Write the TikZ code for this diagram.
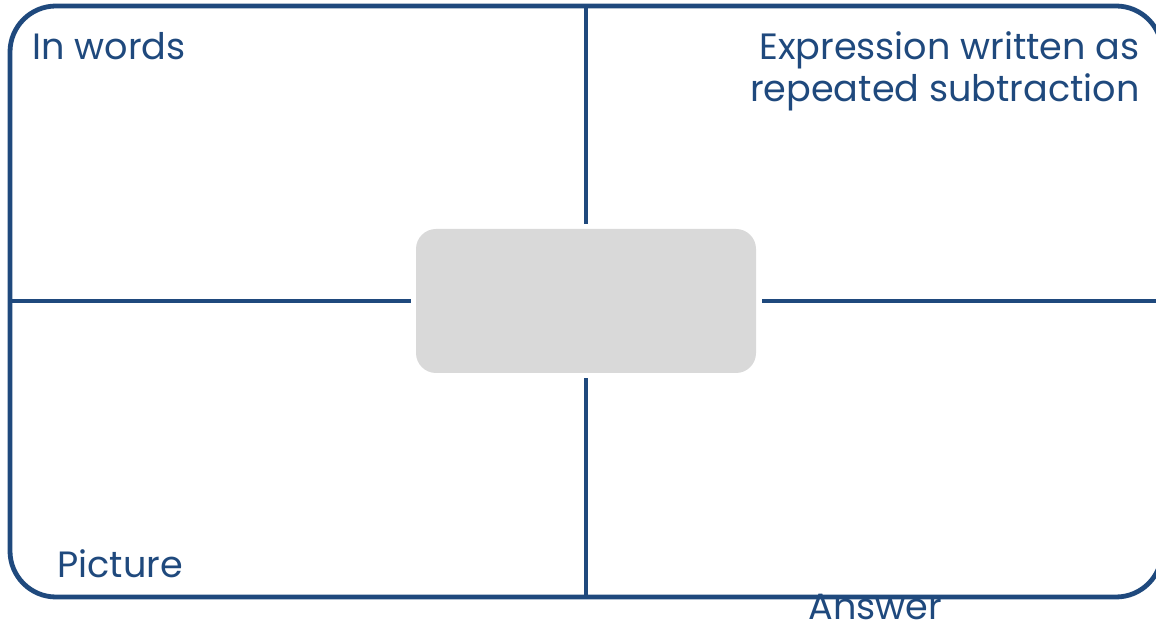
\documentclass[tikz,border=0pt]{standalone}
\usepackage{fontspec}
\setmainfont{Poppins}
\usepackage{tikz}
\usetikzlibrary{positioning}
\definecolor{frameblue}{HTML}{1F497D}
\definecolor{hubgray}{HTML}{D9D9D9}

\begin{document}
\begin{tikzpicture}[
    x=0.5pt, y=-0.5pt,
    frame/.style={draw=frameblue, line width=2.4pt, rounded corners=23pt},
    divider/.style={draw=frameblue, line width=2.4pt},
    hub/.style={rectangle, fill=hubgray, rounded corners=10pt, minimum width=170pt, minimum height=72pt, inner sep=0pt},
    label/.style={text=frameblue, inner sep=0pt, font=\fontsize{18.3}{21}\selectfont}
  ]
  \useasboundingbox (0,0) rectangle (1156,625);
  % quadrant labels
  \node[label, anchor=base west] (words) at (32,60) {In words};
  \node[label, anchor=base east, align=right] (expr) at (1140,102) {Expression written as\\repeated subtraction};
  \node[label, anchor=base west] (pic) at (57,577) {Picture};
  \node[label, anchor=base west] (ans) at (808,619) {Answer};

  % frame and centre box
  \coordinate (tl) at (10,6);
  \coordinate (br) at (1162,597);
  \draw[frame] (tl) rectangle (br);
  \node[hub] (hub) at (586,301) {};

  % dividers
  \coordinate (top) at (586,6);
  \coordinate (bottom) at (586,597);
  \coordinate (left) at (10,301);
  \coordinate (right) at (1162,301);
  \draw[divider, shorten >=2.5pt] (top) -- (hub);
  \draw[divider, shorten >=2.5pt] (bottom) -- (hub);
  \draw[divider, shorten >=2.5pt] (left) -- (hub);
  \draw[divider, shorten >=3pt] (right) -- (hub);
\end{tikzpicture}
\end{document}
